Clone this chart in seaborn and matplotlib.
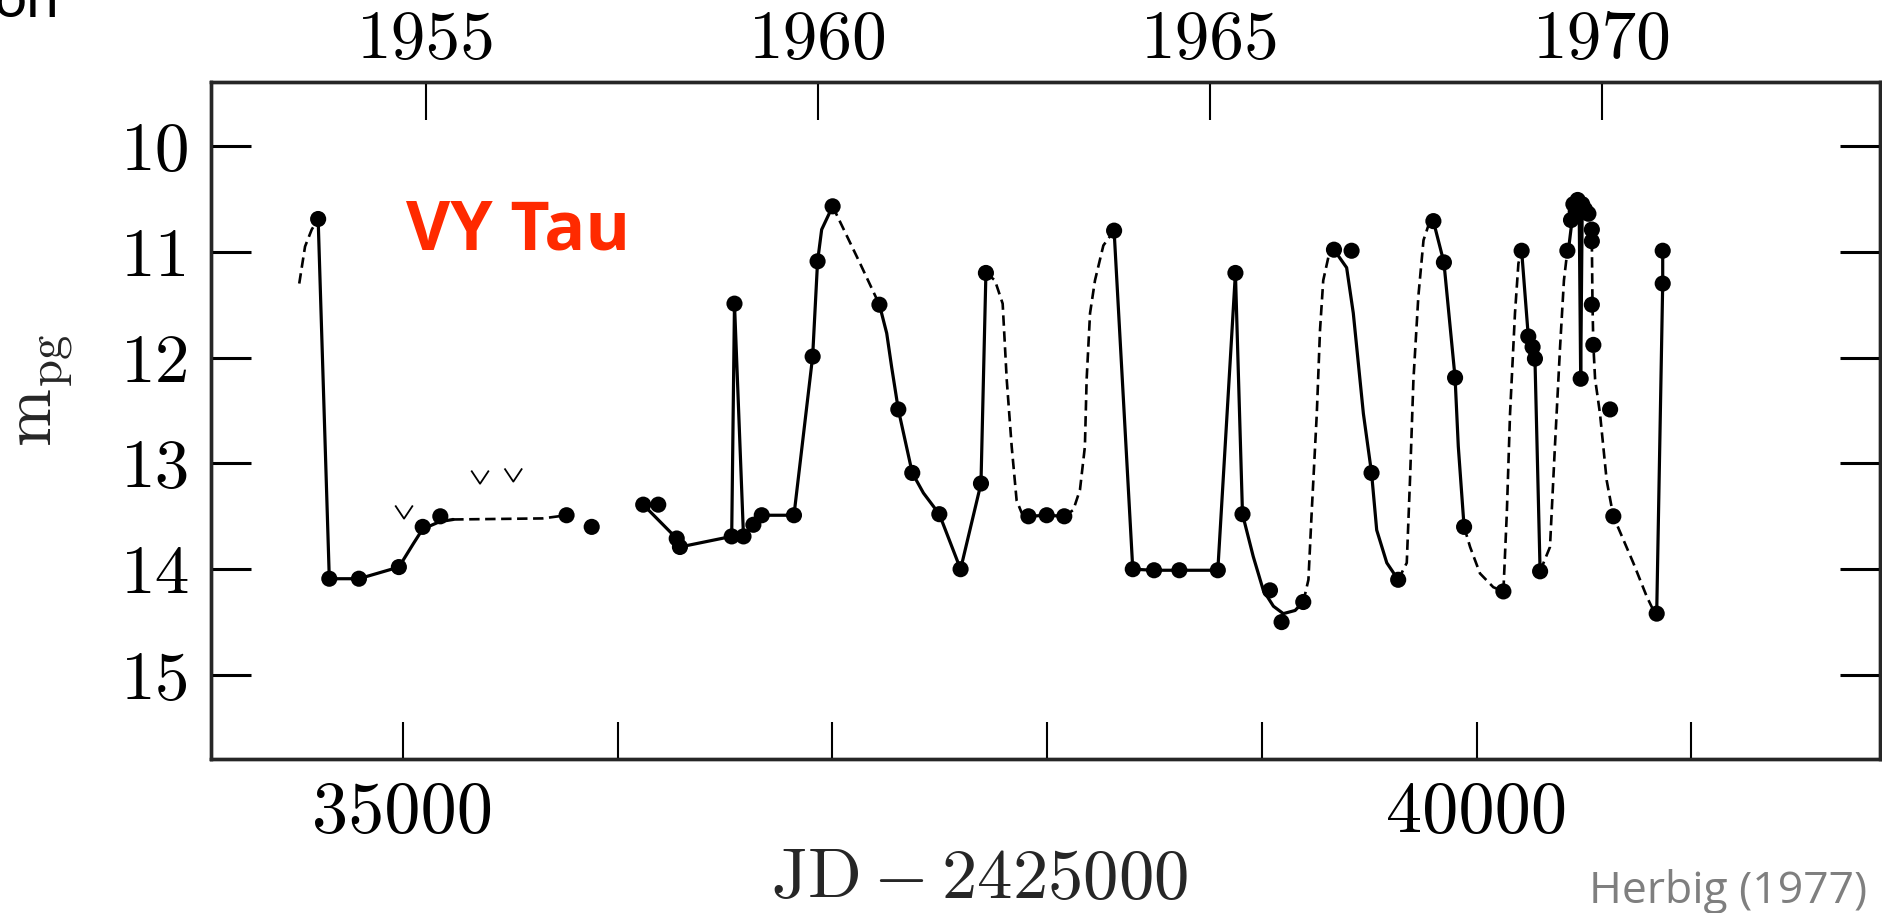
import matplotlib
matplotlib.use("Agg")
import matplotlib.pyplot as plt
import seaborn as sns

# ---------------- data (JD - 2425000, photographic magnitude) ----------------
obs_jd = [34605, 34657, 34795, 34981, 35092, 35174, 35762, 35879,
          36119, 36189, 36275, 36290, 36531, 36544, 36586, 36632, 36671, 36821,
          36908, 36931, 37001, 37219, 37307, 37372, 37498, 37597, 37692, 37715,
          37913, 37998, 38080, 38312, 38399, 38498, 38616, 38795, 38877, 38910,
          39038, 39092, 39193, 39336, 39418, 39511, 39635, 39799, 39848, 39900,
          39942, 40125, 40210, 40241, 40261, 40272, 40296, 40423, 40440, 40451,
          40462, 40471, 40480, 40492, 40505, 40521, 40537, 40537, 40485, 40537,
          40544, 40622, 40637, 40839, 40867, 40867]
obs_mag = [10.69, 14.09, 14.09, 13.98, 13.60, 13.50, 13.49, 13.60,
           13.39, 13.39, 13.71, 13.79, 13.69, 11.49, 13.69, 13.58, 13.49, 13.49,
           11.99, 11.09, 10.57, 11.50, 12.49, 13.09, 13.48, 14.00, 13.19, 11.20,
           13.50, 13.49, 13.50, 10.80, 14.00, 14.01, 14.01, 14.01, 11.20, 13.48,
           14.20, 14.50, 14.31, 10.98, 10.99, 13.09, 14.10, 10.71, 11.10, 12.19,
           13.60, 14.21, 10.99, 11.80, 11.90, 12.01, 14.02, 10.99, 10.70, 10.55,
           10.62, 10.51, 10.55, 10.55, 10.60, 10.64, 10.79, 10.90, 12.20, 11.50,
           11.88, 12.49, 13.50, 14.42, 11.30, 10.99]

# upper limits (plotted as "v")
lim_jd = [35005, 35359, 35514]
lim_mag = [13.46, 13.13, 13.11]

# light-curve segments (solid = observed, dashed = inferred)
seg_a_jd = [34517, 34544, 34575, 34605]
seg_a_mag = [11.30, 10.95, 10.79, 10.69]
seg_b_jd = [34605, 34657, 34795, 34981, 35048, 35092, 35172, 35234]
seg_b_mag = [10.69, 14.09, 14.09, 13.98, 13.76, 13.62, 13.55, 13.53]
seg_c_jd = [35234, 35650, 35762]
seg_c_mag = [13.53, 13.52, 13.49]
seg_d_jd = [36119, 36275, 36290, 36531, 36544, 36586, 36632, 36671, 36821,
            36908, 36931, 36950, 37001]
seg_d_mag = [13.39, 13.71, 13.79, 13.69, 11.49, 13.69, 13.58, 13.49, 13.49,
             11.99, 11.09, 10.79, 10.57]
seg_e_jd = [37001, 37129, 37219]
seg_e_mag = [10.57, 11.11, 11.50]
seg_f_jd = [37219, 37253, 37276, 37307, 37372, 37424, 37498, 37597, 37692, 37715]
seg_f_mag = [11.50, 11.77, 12.09, 12.49, 13.09, 13.28, 13.48, 14.00, 13.19, 11.20]
seg_g_jd = [37715, 37757, 37793, 37812, 37835, 37858, 37882, 37913]
seg_g_mag = [11.20, 11.27, 11.49, 12.21, 12.84, 13.35, 13.47, 13.50]
seg_h_jd = [37913, 37998, 38080]
seg_h_mag = [13.50, 13.49, 13.50]
seg_i_jd = [38080, 38122, 38153, 38176, 38184, 38200, 38223, 38262, 38312]
seg_i_mag = [13.50, 13.44, 13.25, 12.84, 12.21, 11.58, 11.27, 10.94, 10.80]
seg_j_jd = [38312, 38399, 38498, 38616, 38795, 38877, 38910, 38960, 39007,
            39054, 39100, 39155, 39193]
seg_j_mag = [10.80, 14.00, 14.01, 14.01, 14.01, 11.20, 13.48, 13.88, 14.20,
             14.35, 14.42, 14.39, 14.31]
seg_k_jd = [39193, 39217, 39232, 39256, 39271, 39286, 39310, 39336]
seg_k_mag = [14.31, 14.10, 13.47, 12.53, 11.74, 11.27, 11.05, 10.98]
seg_l_jd = [39336, 39395, 39426, 39473, 39511, 39535, 39582, 39635]
seg_l_mag = [10.98, 11.15, 11.58, 12.53, 13.09, 13.63, 13.94, 14.10]
seg_m_jd = [39635, 39675, 39690, 39706, 39729, 39753, 39776, 39799]
seg_m_mag = [14.10, 13.94, 13.16, 12.21, 11.42, 10.89, 10.75, 10.71]
seg_n_jd = [39799, 39848, 39900, 39915, 39942]
seg_n_mag = [10.71, 11.10, 12.19, 12.84, 13.60]
seg_o_jd = [39942, 39970, 40016, 40078, 40125, 40141, 40156, 40179, 40195, 40210]
seg_o_mag = [13.60, 13.79, 14.04, 14.17, 14.21, 13.47, 12.53, 11.58, 11.11, 10.99]
seg_p_jd = [40210, 40241, 40261, 40272, 40296]
seg_p_mag = [10.99, 11.80, 11.90, 12.01, 14.02]
seg_q_jd = [40296, 40342, 40365, 40389, 40407, 40423]
seg_q_mag = [14.02, 13.79, 12.84, 11.90, 11.27, 10.99]
seg_r_jd = [40430, 40451, 40471, 40478, 40485, 40492, 40500]
seg_r_mag = [10.95, 10.60, 10.52, 10.60, 12.20, 10.60, 10.55]
seg_s_jd = [40537, 40540, 40544, 40552, 40575, 40606, 40637, 40730, 40793,
            40824, 40839]
seg_s_mag = [10.90, 11.50, 11.88, 12.20, 12.53, 13.16, 13.50, 13.94, 14.26,
             14.39, 14.42]
seg_t_jd = [40839, 40867, 40867]
seg_t_mag = [14.42, 11.30, 10.99]

solid_segments = [(seg_b_jd, seg_b_mag), (seg_d_jd, seg_d_mag), (seg_f_jd, seg_f_mag),
                  (seg_h_jd, seg_h_mag), (seg_j_jd, seg_j_mag), (seg_l_jd, seg_l_mag),
                  (seg_n_jd, seg_n_mag), (seg_p_jd, seg_p_mag), (seg_r_jd, seg_r_mag),
                  (seg_t_jd, seg_t_mag)]
dashed_segments = [(seg_a_jd, seg_a_mag), (seg_c_jd, seg_c_mag), (seg_e_jd, seg_e_mag),
                   (seg_g_jd, seg_g_mag), (seg_i_jd, seg_i_mag), (seg_k_jd, seg_k_mag),
                   (seg_m_jd, seg_m_mag), (seg_o_jd, seg_o_mag), (seg_q_jd, seg_q_mag),
                   (seg_s_jd, seg_s_mag)]

# axes ticks
xtick_jd = [35000, 36000, 37000, 38000, 39000, 40000, 41000]
xtick_labels = ["35000", "", "", "", "", "40000", ""]
ytick_mag = [10, 11, 12, 13, 14, 15]
year_jd = [35108.5, 36934.5, 38760.5, 40586.5]
year_labels = ["1955", "1960", "1965", "1970"]

# ---------------- style ----------------
sns.set_theme(style="ticks")
plt.rcParams["font.family"] = ["cmr10", "DejaVu Serif"]
plt.rcParams["mathtext.fontset"] = "cm"
plt.rcParams["axes.unicode_minus"] = False
plt.rcParams["lines.scale_dashes"] = False

W, H = 1882, 913
fig = plt.figure(figsize=(W / 100, H / 100), dpi=100)
fig.patch.set_facecolor("white")
ax = fig.add_axes([211 / W, 1 - 759 / H, 1669 / W, 677 / H])
ax.set_facecolor("white")

for sx, sy in solid_segments:
    sns.lineplot(x=sx, y=sy, ax=ax, sort=False, estimator=None, color="black",
                 linewidth=2.3, solid_joinstyle="round")
for sx, sy in dashed_segments:
    sns.lineplot(x=sx, y=sy, ax=ax, sort=False, estimator=None, color="black",
                 linewidth=1.9, linestyle=(0, (7.5, 4)))

sns.scatterplot(x=obs_jd, y=obs_mag, ax=ax, s=135, color="black",
                edgecolor="none", zorder=4)
v_marker = [(-1.0, 0.75), (0.0, -0.75), (1.0, 0.75)]
ax.scatter(lim_jd, lim_mag, marker=v_marker, s=160, facecolors="none",
           edgecolors="black", linewidths=1.3, zorder=4)

ax.set_xlim(34106, 41879)
ax.set_ylim(15.794, 9.395)
ax.set_xlabel("")
ax.set_ylabel("")
ax.set_xticks(xtick_jd)
ax.set_xticklabels(xtick_labels, fontsize=52)
ax.set_yticks(ytick_mag)
ax.set_yticklabels([str(v) for v in ytick_mag], fontsize=50)
ax.tick_params(axis="x", which="both", direction="in", length=27, width=1.5,
               bottom=True, top=False, pad=16, colors="black")
ax.tick_params(axis="y", which="both", direction="in", length=29, width=2.2,
               left=True, right=True, labelright=False, pad=15, colors="black")
for sp in ax.spines.values():
    sp.set_visible(True)
    sp.set_linewidth(2.4)
    sp.set_color("black")

ax2 = ax.twiny()
ax2.set_xlim(ax.get_xlim())
ax2.set_xticks(year_jd)
ax2.set_xticklabels(year_labels, fontsize=50)
ax2.tick_params(axis="x", direction="in", length=27, width=1.5, pad=8,
                top=True, bottom=False, colors="black")
for sp in ax2.spines.values():
    sp.set_linewidth(2.4)

fig.text(980 / W, 1 - 880 / H, r"$\mathrm{JD} - 2425000$", fontsize=51,
         ha="center", va="center")
fig.text(46 / W, 1 - 390 / H, r"$\mathrm{m}_{\mathrm{pg}}$", fontsize=50,
         ha="center", va="center", rotation=90)

fig.text(406 / W, 1 - 231 / H, "VY Tau", fontsize=49, fontweight="bold",
         color="#FF2A00", family=["Open Sans", "DejaVu Sans"], ha="left", va="center")
fig.text(1867 / W, 1 - 891 / H, "Herbig (1977)", fontsize=32, color="#7F7F7F",
         family=["Open Sans", "DejaVu Sans"], ha="right", va="center")
fig.text(-6 / W, 1 - 17 / H, "on", fontsize=42, color="black",
         family=["Lato", "DejaVu Sans"], ha="left", va="baseline")

fig.savefig("out.png", dpi=100, facecolor="white")
